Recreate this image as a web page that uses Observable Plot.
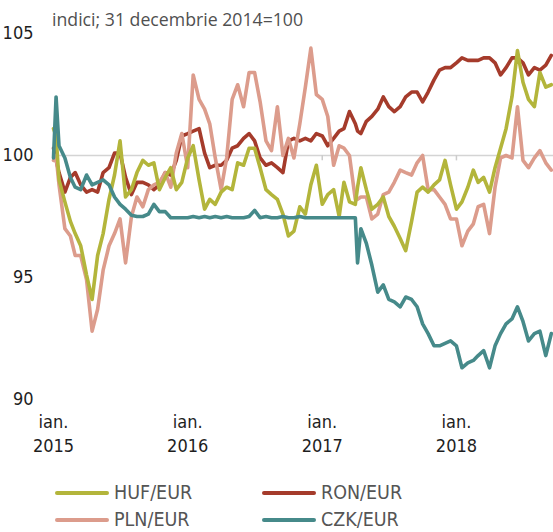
<!DOCTYPE html>
<html><head><meta charset="utf-8">
<script src="https://cdn.jsdelivr.net/npm/d3@7"></script>
<script src="https://cdn.jsdelivr.net/npm/@observablehq/plot@0.6"></script>
<style>
body{margin:0;background:#fff;}
#wrap{position:relative;width:553px;height:532px;overflow:hidden;font-family:"Liberation Sans Narrow","DejaVu Sans Condensed",sans-serif;}
#sub{position:absolute;left:52px;top:9px;font-family:"Open Sans",sans-serif;font-size:17.7px;color:#505050;white-space:nowrap;line-height:20px;}
#chart{position:absolute;left:0;top:0;}
.leg{position:absolute;display:flex;align-items:center;font-size:19.5px;color:#555;height:20px;line-height:20px;white-space:nowrap;}
.sw{width:54px;height:4px;border-radius:2px;margin-right:5px;}
</style></head>
<body><div id="wrap"><div id="chart"></div><div id="sub"></div><div id="legend"></div></div>
<script>
const subtitle = "indici; 31 decembrie 2014=100";
const dates = [
"2015-01-01","2015-01-08","2015-01-16","2015-02-01","2015-02-16","2015-03-01","2015-03-16","2015-04-01","2015-04-16","2015-05-01","2015-05-16","2015-06-01","2015-06-16","2015-07-01","2015-07-16","2015-08-01","2015-08-16","2015-09-01","2015-09-16","2015-10-01","2015-10-16","2015-11-01","2015-11-16","2015-12-01","2015-12-16",
"2016-01-01","2016-01-16","2016-02-01","2016-02-16","2016-03-01","2016-03-16","2016-04-01","2016-04-16","2016-05-01","2016-05-16","2016-06-01","2016-06-16","2016-07-01","2016-07-16","2016-08-01","2016-08-16","2016-09-01","2016-09-16","2016-10-01","2016-10-16","2016-11-01","2016-11-16","2016-12-01","2016-12-16",
"2017-01-01","2017-01-16","2017-02-01","2017-02-16","2017-03-01","2017-03-16","2017-04-01","2017-04-07","2017-04-16","2017-05-01","2017-05-16","2017-06-01","2017-06-16","2017-07-01","2017-07-16","2017-08-01","2017-08-16","2017-09-01","2017-09-16","2017-10-01","2017-10-16","2017-11-01","2017-11-16","2017-12-01","2017-12-16",
"2018-01-01","2018-01-16","2018-02-01","2018-02-16","2018-03-01","2018-03-16","2018-04-01","2018-04-16","2018-05-01","2018-05-16","2018-06-01","2018-06-16","2018-07-01","2018-07-16","2018-08-01","2018-08-16","2018-09-01","2018-09-16"];
const huf = [
101.1,100.8,99.0,98.1,97.3,96.8,96.3,95.1,94.1,95.9,96.8,98.2,99.2,100.6,98.3,98.6,99.3,99.8,99.6,99.7,98.6,99.1,99.5,98.6,98.9,
99.9,100.4,99.0,97.8,98.2,98.0,98.5,98.7,98.6,99.7,99.6,100.3,100.3,99.5,98.6,98.4,98.2,97.6,96.7,96.9,97.9,97.6,98.8,99.6,
98.0,98.4,98.6,97.5,98.9,98.1,98.0,98.7,99.5,98.6,97.8,98.0,98.3,97.5,97.1,96.6,96.1,97.3,98.5,98.7,98.5,98.8,99.0,99.8,98.8,
97.8,98.1,98.7,99.4,98.9,99.1,98.5,99.5,100.3,101.1,102.4,104.3,103.0,102.3,102.0,103.4,102.8,102.9];
const ron = [
100.3,99.8,99.3,98.5,99.1,99.3,98.8,98.5,98.6,98.5,99.3,99.5,100.1,100.1,99.1,98.4,98.9,98.9,98.8,98.6,98.8,99.3,99.2,99.8,100.8,
100.9,101.0,101.1,100.1,99.5,99.6,99.6,99.8,100.3,100.4,100.7,100.9,100.6,99.9,99.6,99.7,99.5,99.3,100.6,100.7,100.6,100.7,100.6,100.9,
100.8,100.4,100.7,101.0,101.1,101.8,101.3,101.0,100.9,101.4,101.6,101.9,102.4,102.0,101.8,102.0,102.4,102.6,102.6,102.2,102.6,103.1,103.5,103.6,103.6,
103.8,104.0,103.9,103.9,103.9,104.0,104.0,103.8,103.3,103.6,104.0,104.0,103.8,103.3,103.6,103.5,103.7,104.1];
const pln = [
99.8,100.0,98.8,97.0,96.7,95.9,95.9,94.9,92.8,93.7,95.3,96.3,96.8,97.4,95.6,97.5,98.3,97.9,98.6,98.8,98.9,99.3,98.7,100.1,100.9,
99.5,103.3,102.3,101.9,101.3,99.9,98.6,99.9,102.3,102.9,102.0,103.4,103.4,102.2,100.6,100.2,102.0,100.0,100.7,99.9,101.3,102.8,104.4,102.5,
102.3,101.6,99.6,100.4,100.3,100.0,98.2,98.2,98.3,98.3,97.4,97.6,98.4,98.5,98.9,99.4,99.3,99.2,99.7,100.0,98.6,98.6,98.3,98.0,97.4,
97.4,96.3,96.9,97.2,97.9,98.0,96.8,98.7,99.9,100.0,99.9,102.0,99.8,99.5,99.9,100.2,99.7,99.4];
const czk = [
99.9,102.4,100.4,99.9,99.1,98.7,98.6,99.2,98.8,98.9,99.0,98.8,98.3,98.0,97.8,97.55,97.5,97.5,97.6,98.0,97.7,97.7,97.45,97.45,97.45,
97.45,97.5,97.45,97.5,97.45,97.5,97.45,97.5,97.45,97.45,97.45,97.5,97.75,97.45,97.5,97.45,97.45,97.5,97.45,97.45,97.5,97.45,97.45,97.45,
97.45,97.45,97.45,97.45,97.45,97.45,97.45,95.6,97.0,96.4,95.5,94.4,94.7,94.1,94.0,93.8,94.2,94.1,93.8,93.1,92.7,92.2,92.2,92.3,92.4,
92.2,91.3,91.5,91.6,91.8,92.0,91.3,92.2,92.7,93.1,93.3,93.8,93.2,92.4,92.7,92.8,91.8,92.7];
const seriesNames = ["HUF/EUR","RON/EUR","PLN/EUR","CZK/EUR"];
const seriesColors = ["#b3b53b","#a53b2b","#dc9c8c","#468a8a"];
const drawOrder = ["RON/EUR","PLN/EUR","HUF/EUR","CZK/EUR"];
const yTicks = [90,95,100,105];
const xTickDates = ["2015-01-01","2016-01-01","2017-01-01","2018-01-01"];
const xTickPrefix = "ian.";
const xDomain = ["2015-01-01","2018-09-22"];
const yDomain = [90,105];

const parse = d3.utcParse("%Y-%m-%d");
const valuesBy = {"HUF/EUR": huf, "RON/EUR": ron, "PLN/EUR": pln, "CZK/EUR": czk};
const rows = [];
for (const name of drawOrder) valuesBy[name].forEach((v,i) => rows.push({date: parse(dates[i]), value: v, series: name}));
const yearTicks = xTickDates.map(parse);

const chart = Plot.plot({
  width: 553, height: 462,
  marginLeft: 53, marginRight: 0, marginTop: 33, marginBottom: 63,
  style: {fontFamily: '"Liberation Sans Narrow","DejaVu Sans Condensed",sans-serif', fontSize: "18px", color: "#1e1e1e", background: "transparent", overflow: "visible"},
  x: {type: "utc", domain: xDomain.map(parse)},
  y: {domain: yDomain},
  color: {domain: seriesNames, range: seriesColors},
  marks: [
    Plot.ruleY([100], {stroke: "#d4d4d4", strokeWidth: 1.6}),
    Plot.ruleX(yearTicks, {x: d => d, y1: 100, y2: 99.78, stroke: "#cccccc", strokeWidth: 1.5}),
    Plot.lineY(rows, {x: "date", y: "value", z: "series", stroke: "series", strokeWidth: 3.6, strokeLinejoin: "round", strokeLinecap: "round"}),
    Plot.axisY({ticks: yTicks, tickSize: 0, tickPadding: 20, label: null, fontSize: 18}),
    Plot.axisX({ticks: yearTicks, tickSize: 0, tickPadding: 16, label: null, fontSize: 18, tickFormat: () => xTickPrefix}),
    Plot.axisX({ticks: yearTicks, tickSize: 0, tickPadding: 40, label: null, fontSize: 18, tickFormat: d => String(d.getUTCFullYear())})
  ]
});
document.getElementById("chart").appendChild(chart);
document.getElementById("sub").textContent = subtitle;

const legendPos = [[55,483],[262,483],[55,510],[262,510]];
const leg = document.getElementById("legend");
seriesNames.forEach((name,i) => {
  const d = document.createElement("div");
  d.className = "leg";
  d.style.left = legendPos[i][0] + "px";
  d.style.top = legendPos[i][1] + "px";
  const sw = document.createElement("div");
  sw.className = "sw";
  sw.style.background = seriesColors[i];
  const t = document.createElement("span");
  t.textContent = name;
  d.appendChild(sw); d.appendChild(t);
  leg.appendChild(d);
});
</script></body></html>
